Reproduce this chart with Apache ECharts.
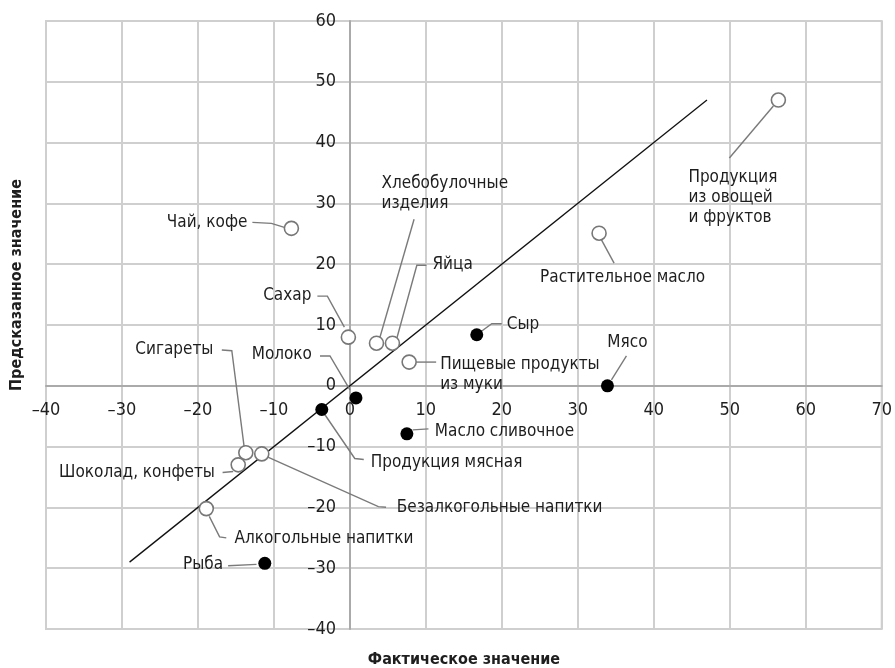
<!DOCTYPE html>
<html>
<head>
<meta charset="utf-8">
<script src="https://cdn.jsdelivr.net/npm/echarts@6/dist/echarts.min.js"></script>
<style>
html,body{margin:0;padding:0;background:#fff;}
#chart{width:895px;height:668px;}
</style>
</head>
<body>
<div id="chart"></div>
<script>
// ---- data ----
const productNames = [
  "Чай, кофе", "Сахар", "Хлебобулочные\nизделия", "Яйца", "Пищевые продукты\nиз муки",
  "Сыр", "Мясо", "Растительное масло", "Продукция\nиз овощей\nи фруктов", "Молоко",
  "Продукция мясная", "Масло сливочное", "Безалкогольные напитки", "Сигареты",
  "Шоколад, конфеты", "Алкогольные напитки", "Рыба"
];
const actualValues    = [-7.7, -0.2, 3.5, 5.6, 7.8, 16.7, 33.9, 32.8, 56.4, 0.8, -3.7, 7.5, -11.6, -13.7, -14.7, -18.9, -11.2];
const predictedValues = [25.9, 8.0, 7.0, 7.0, 3.9, 8.4, 0.0, 25.1, 47.0, -2.0, -3.9, -7.9, -11.2, -11.0, -13.0, -20.2, -29.2];
const pointKind       = ["open","open","open","open","open","filled","filled","open","open","filled",
                         "filled","filled","open","open","open","open","filled"];
const trendX = [-29, 47];
const trendY = [-29, 47];
const xRange = [-40, 70];
const yRange = [-40, 60];
const axisTitleX = "Фактическое значение";
const axisTitleY = "Предсказанное значение";

// ---- annotation layout (pixel offsets from each point) ----
const annotationLayout = [
  {tx:-44, ty:-6,   align:"right", path:[[-39,-6],[-20,-5],[-7,-1]]},
  {tx:-37, ty:-42,  align:"right", path:[[-31,-41],[-21,-41],[-4,-10]]},
  {tx:5,   ty:-150, align:"left",  path:[[37.6,-124],[2.6,-3]]},
  {tx:40,  ty:-79,  align:"left",  path:[[34,-78],[24.4,-78],[4.4,-5]]},
  {tx:31,  ty:12.7, align:"left",  path:[[7,0],[27,0]]},
  {tx:30,  ty:-10,  align:"left",  path:[[25,-11],[15,-11],[4,-3]]},
  {tx:20,  ty:-43,  align:"center",path:[[19,-30],[4,-6]]},
  {tx:-59, ty:44.4, align:"left",  path:[[2,6],[15,30]]},
  {tx:-90, ty:97.3, align:"left",  path:[[-5,6],[-49,58]]},
  {tx:-44, ty:-43,  align:"right", path:[[-36,-42],[-26,-42],[-6,-8]]},
  {tx:49,  ty:53,   align:"left",  path:[[3,5],[33,49],[42,50]]},
  {tx:28,  ty:-2,   align:"left",  path:[[6,-4],[21.6,-5]]},
  {tx:135, ty:53.7, align:"left",  path:[[5,2.7],[116.6,52.7],[124.3,53.3]]},
  {tx:-32.4,ty:-102.7,align:"right",path:[[-24,-102.7],[-14,-102],[-1.7,-6]]},
  {tx:-23.3,ty:7.7, align:"right", path:[[-15.6,7.7],[-5,6.7]]},
  {tx:28.3,ty:30.3, align:"left",  path:[[3,7.7],[13.3,28.3],[20,29.3]]},
  {tx:-41.7,ty:1,   align:"right", path:[[-36.7,2.4],[-8.3,1]]}
];

const FONT = "'DejaVu Sans Condensed','Liberation Sans Narrow','Liberation Sans',sans-serif";
const TEXT = "#1e1e1e";
const W = 895, H = 668;
const G = {left: 46, right: 13, top: 21, bottom: 39};
const gridW = W - G.left - G.right, gridH = H - G.top - G.bottom;
// place axes on the zero lines of the other axis
const xAxisOffset = -gridH * (0 - yRange[0]) / (yRange[1] - yRange[0]);
const yAxisOffset = -gridW * (0 - xRange[0]) / (xRange[1] - xRange[0]);

const points = actualValues.map((x, i) => [x, predictedValues[i]]);
const openPts = [], filledPts = [];
points.forEach((p, i) => (pointKind[i] === "open" ? openPts : filledPts).push(p));

const fmt = v => (v < 0 ? "\u2013" + Math.abs(v) : String(v));

const chart = echarts.init(document.getElementById("chart"), null, {renderer: "canvas"});
chart.setOption({
  animation: false,
  backgroundColor: "#fff",
  grid: Object.assign({show: true, borderColor: "#cfcfcf", borderWidth: 2}, G),
  xAxis: {
    type: "value", min: xRange[0], max: xRange[1], interval: 10, position: "bottom", offset: xAxisOffset,
    axisLine: {onZero: false, lineStyle: {color: "#aaaaaa", width: 2}},
    axisTick: {show: false},
    splitLine: {show: true, lineStyle: {color: "#cfcfcf", width: 2}},
    axisLabel: {formatter: fmt, color: TEXT, fontFamily: FONT, fontSize: 18, margin: 16}
  },
  yAxis: {
    type: "value", min: yRange[0], max: yRange[1], interval: 10, position: "left", offset: yAxisOffset,
    axisLine: {onZero: false, lineStyle: {color: "#aaaaaa", width: 2}},
    axisTick: {show: false},
    splitLine: {show: true, lineStyle: {color: "#cfcfcf", width: 2}},
    axisLabel: {formatter: fmt, color: TEXT, fontFamily: FONT, fontSize: 18, margin: 14}
  },
  graphic: [
    {type: "text", x: G.left + gridW / 2, y: 660,
     style: {text: axisTitleX, font: "bold 16px " + FONT, fill: TEXT, align: "center", verticalAlign: "middle"}},
    {type: "text", x: 17, y: 285, rotation: Math.PI / 2,
     style: {text: axisTitleY, font: "bold 16px " + FONT, fill: TEXT, align: "center", verticalAlign: "middle"}}
  ],
  series: [
    {
      type: "line", data: trendX.map((x, i) => [x, trendY[i]]),
      symbol: "none", lineStyle: {color: "#111", width: 1.3}, z: 3, silent: true
    },
    {
      type: "custom", coordinateSystem: "cartesian2d", data: points, z: 4, clip: false,
      renderItem: function (params, api) {
        const i = params.dataIndex;
        const c = api.coord([api.value(0), api.value(1)]);
        const a = annotationLayout[i];
        return {
          type: "group",
          children: [
            {type: "polyline",
             shape: {points: a.path.map(d => [c[0] + d[0], c[1] + d[1]])},
             style: {stroke: "#7a7a7a", lineWidth: 1.4, fill: null}},
            {type: "text",
             style: {text: productNames[i], x: c[0] + a.tx, y: c[1] + a.ty,
                     align: a.align, verticalAlign: "middle", lineHeight: 20,
                     font: "17px " + FONT, fill: TEXT}}
          ]
        };
      }
    },
    {
      type: "scatter", data: openPts, symbol: "circle", symbolSize: 14, z: 5,
      itemStyle: {color: "#fff", borderColor: "#777", borderWidth: 1.6, opacity: 1}
    },
    {
      type: "scatter", data: filledPts, symbol: "circle", symbolSize: 13, z: 5,
      itemStyle: {color: "#000", opacity: 1}
    }
  ]
});
</script>
</body>
</html>
